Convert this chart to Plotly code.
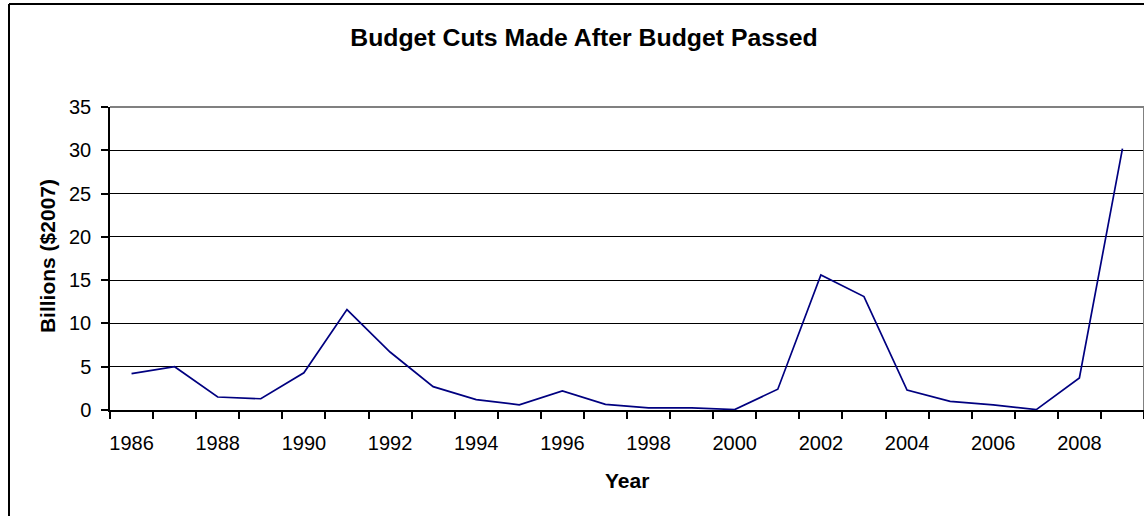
import plotly.graph_objects as go

years = list(range(1986, 2010))
cuts = [4.2, 5.0, 1.5, 1.3, 4.3, 11.6, 6.7, 2.7, 1.2, 0.6, 2.2, 0.65,
        0.25, 0.25, 0.05, 2.4, 15.6, 13.1, 2.3, 1.0, 0.6, 0.05, 3.7, 30.2]
label_years = list(range(1986, 2009, 2))
y_ticks = [0, 5, 10, 15, 20, 25, 30, 35]

title = "Budget Cuts Made After Budget Passed"
x_title = "Year"
y_title = "Billions ($2007)"

FONT = "Liberation Sans, Arial, sans-serif"

fig = go.Figure()
fig.add_trace(go.Scatter(x=years, y=cuts, mode="lines",
                         line=dict(color="#000080", width=1.7),
                         showlegend=False, hoverinfo="skip"))

fig.update_layout(
    width=1144, height=516,
    margin=dict(l=110, r=0, t=107, b=106),
    paper_bgcolor="white", plot_bgcolor="white",
    font=dict(family=FONT, size=20, color="black"),
    title=dict(text="<b>" + title + "</b>", x=584 / 1144, xref="container", xanchor="center",
               y=1 - 37 / 516, yref="container", yanchor="middle",
               font=dict(family=FONT, size=24.8, color="black")),
    xaxis=dict(range=[1985.5, 2009.5], tickmode="array", tickvals=label_years,
               ticktext=[str(v) for v in label_years], ticks="", showgrid=False,
               showline=True, linecolor="black", linewidth=1.5, zeroline=False,
               ticklabelstandoff=14,
               minor=dict(tick0=1985.5, dtick=1, ticks="outside", ticklen=7,
                          tickcolor="black", tickwidth=1.5, showgrid=False)),
    yaxis=dict(range=[0, 35], tickmode="array", tickvals=y_ticks, ticks="outside",
               ticklen=7, tickcolor="black", tickwidth=1.5, showgrid=True,
               gridcolor="black", gridwidth=1.4, showline=True, linecolor="black",
               linewidth=1.5, zeroline=False, ticklabelstandoff=6),
    annotations=[
        dict(text="<b>" + y_title + "</b>", xref="paper", yref="paper",
             x=(47 - 110) / 1034, y=0.508, textangle=-90, showarrow=False,
             xanchor="center", yanchor="middle", font=dict(size=21)),
        dict(text="<b>" + x_title + "</b>", xref="paper", yref="paper",
             x=0.5, y=(410 - 480) / 303, showarrow=False,
             xanchor="center", yanchor="middle", font=dict(size=21)),
    ],
    shapes=[
        # plot-area top border (grey)
        dict(type="line", xref="paper", yref="paper", x0=0, x1=1, y0=1, y1=1,
             line=dict(color="#808080", width=2), layer="above"),
        # right plot-area border
        dict(type="line", xref="paper", yref="paper", x0=1, x1=1, y0=0, y1=1,
             line=dict(color="#808080", width=2), layer="above"),
        # outer chart frame
        dict(type="line", xref="paper", yref="paper", x0=(9 - 110) / 1034, x1=1.1,
             y0=1 + (107 - 4) / 303, y1=1 + (107 - 4) / 303,
             line=dict(color="black", width=2)),
        dict(type="line", xref="paper", yref="paper", x0=(9 - 110) / 1034, x1=(9 - 110) / 1034,
             y0=1 + (107 - 4) / 303, y1=-0.5,
             line=dict(color="black", width=2)),
    ],
)

fig.write_html("out.html", config={"displayModeBar": False},
               post_script="document.body.style.margin='0';document.body.style.overflow='hidden';")
